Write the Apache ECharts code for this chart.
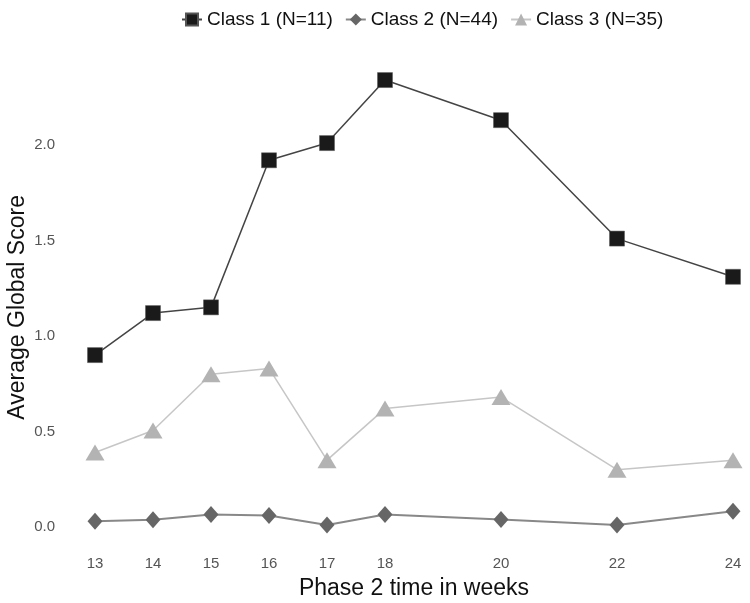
<!DOCTYPE html>
<html><head><meta charset="utf-8">
<script src="https://cdn.jsdelivr.net/npm/echarts@6/dist/echarts.min.js"></script>
<style>html,body{margin:0;padding:0;background:#fff}#c{width:750px;height:603px}</style>
</head><body><div id="c"></div>
<script>
var weeks = [13, 14, 15, 16, 17, 18, 20, 22, 24];
var class1 = [0.90, 1.12, 1.15, 1.92, 2.01, 2.34, 2.13, 1.51, 1.31];
var class2 = [0.03, 0.038, 0.065, 0.06, 0.01, 0.065, 0.039, 0.01, 0.083];
var class3 = [0.39, 0.505, 0.80, 0.83, 0.35, 0.62, 0.68, 0.30, 0.35];
var yTicks = [0, 0.5, 1.0, 1.5, 2.0];
var seriesNames = ['Class 1 (N=11)', 'Class 2 (N=44)', 'Class 3 (N=35)'];

function pairs(v) { return weeks.map(function (w, i) { return [w, v[i]]; }); }

var chart = echarts.init(document.getElementById('c'));
chart.setOption({
  backgroundColor: '#fff',
  animation: false,
  textStyle: { fontFamily: 'Liberation Sans, Arial, sans-serif' },
  legend: {
    top: 5, left: 176,
    itemWidth: 20, itemHeight: 15, itemGap: 12,
    textStyle: { fontSize: 19, color: '#111' },
    data: seriesNames
  },
  grid: { left: 95, right: 17, top: 68.6, bottom: 56.9, containLabel: false, outerBoundsMode: 'none' },
  xAxis: {
    type: 'value', min: 13, max: 24,
    name: 'Phase 2 time in weeks', nameLocation: 'middle', nameGap: 31, nameMoveOverlap: false,
    nameTextStyle: { fontSize: 23, color: '#111' },
    axisLine: { show: false }, axisTick: { show: false }, splitLine: { show: false },
    axisLabel: { customValues: weeks, color: '#555', fontSize: 15, margin: 10 }
  },
  yAxis: {
    type: 'value', min: -0.1, max: 2.4,
    name: 'Average Global Score', nameLocation: 'middle', nameGap: 66, nameMoveOverlap: false,
    nameTextStyle: { fontSize: 23, color: '#111' },
    axisLine: { show: false }, axisTick: { show: false }, splitLine: { show: false },
    axisLabel: { customValues: yTicks, color: '#555', fontSize: 15, margin: 40,
      formatter: function (v) { return v.toFixed(1); } }
  },
  series: [
    { name: seriesNames[0], type: 'line', data: pairs(class1), clip: false,
      symbol: 'rect', symbolSize: 15,
      itemStyle: { color: '#1a1a1a', borderColor: '#555', borderWidth: 0.5 },
      lineStyle: { color: '#444', width: 1.5 } },
    { name: seriesNames[1], type: 'line', data: pairs(class2), clip: false,
      symbol: 'diamond', symbolSize: [15, 17],
      itemStyle: { color: '#666' },
      lineStyle: { color: '#888', width: 2 } },
    { name: seriesNames[2], type: 'line', data: pairs(class3), clip: false,
      symbol: 'triangle', symbolSize: [19, 16],
      itemStyle: { color: '#b3b3b3' },
      lineStyle: { color: '#c6c6c6', width: 1.5 } }
  ]
});
</script></body></html>
